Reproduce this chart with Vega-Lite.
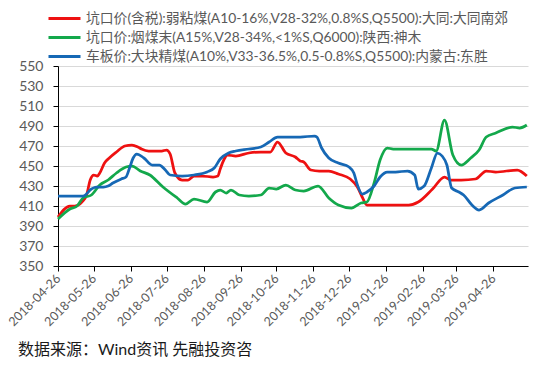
{
  "$schema": "https://vega.github.io/schema/vega-lite/v6.json",
  "width": 470,
  "height": 200,
  "autosize": {"type": "none"},
  "padding": {"left": 58, "top": 66, "right": 22, "bottom": 101},
  "background": "white",
  "title": {
    "text": "数据来源：Wind资讯 先融投资咨",
    "orient": "bottom",
    "anchor": "start",
    "frame": "group",
    "dx": -40,
    "offset": 14,
    "fontSize": 16,
    "fontWeight": "normal",
    "color": "#1a1a1a"
  },
  "data": {
    "format": {"parse": {"d": "date:'%Y-%m-%d'"}},
    "values": [
      {"d": "2018-04-26", "s": "A", "v": 399},
      {"d": "2018-05-06", "s": "A", "v": 410},
      {"d": "2018-05-10", "s": "A", "v": 410},
      {"d": "2018-05-16", "s": "A", "v": 414},
      {"d": "2018-05-20", "s": "A", "v": 421},
      {"d": "2018-05-23", "s": "A", "v": 436},
      {"d": "2018-05-26", "s": "A", "v": 441},
      {"d": "2018-05-29", "s": "A", "v": 440},
      {"d": "2018-05-31", "s": "A", "v": 443},
      {"d": "2018-06-04", "s": "A", "v": 453},
      {"d": "2018-06-08", "s": "A", "v": 458},
      {"d": "2018-06-14", "s": "A", "v": 464},
      {"d": "2018-06-21", "s": "A", "v": 470},
      {"d": "2018-06-27", "s": "A", "v": 471},
      {"d": "2018-07-02", "s": "A", "v": 469},
      {"d": "2018-07-05", "s": "A", "v": 467},
      {"d": "2018-07-11", "s": "A", "v": 465},
      {"d": "2018-07-22", "s": "A", "v": 465},
      {"d": "2018-07-26", "s": "A", "v": 466},
      {"d": "2018-07-29", "s": "A", "v": 462},
      {"d": "2018-08-02", "s": "A", "v": 443},
      {"d": "2018-08-08", "s": "A", "v": 436},
      {"d": "2018-08-13", "s": "A", "v": 436},
      {"d": "2018-08-18", "s": "A", "v": 440},
      {"d": "2018-08-25", "s": "A", "v": 440},
      {"d": "2018-09-03", "s": "A", "v": 439},
      {"d": "2018-09-07", "s": "A", "v": 440},
      {"d": "2018-09-09", "s": "A", "v": 447},
      {"d": "2018-09-12", "s": "A", "v": 456},
      {"d": "2018-09-15", "s": "A", "v": 461},
      {"d": "2018-09-22", "s": "A", "v": 460},
      {"d": "2018-10-03", "s": "A", "v": 463},
      {"d": "2018-10-13", "s": "A", "v": 464},
      {"d": "2018-10-21", "s": "A", "v": 464},
      {"d": "2018-10-27", "s": "A", "v": 474},
      {"d": "2018-11-03", "s": "A", "v": 463},
      {"d": "2018-11-11", "s": "A", "v": 459},
      {"d": "2018-11-15", "s": "A", "v": 455},
      {"d": "2018-11-18", "s": "A", "v": 454},
      {"d": "2018-11-24", "s": "A", "v": 446},
      {"d": "2018-12-01", "s": "A", "v": 445},
      {"d": "2018-12-09", "s": "A", "v": 445},
      {"d": "2018-12-17", "s": "A", "v": 442},
      {"d": "2018-12-27", "s": "A", "v": 437},
      {"d": "2019-01-02", "s": "A", "v": 429},
      {"d": "2019-01-06", "s": "A", "v": 419},
      {"d": "2019-01-10", "s": "A", "v": 411},
      {"d": "2019-01-21", "s": "A", "v": 411},
      {"d": "2019-02-14", "s": "A", "v": 411},
      {"d": "2019-02-22", "s": "A", "v": 414},
      {"d": "2019-03-06", "s": "A", "v": 427},
      {"d": "2019-03-16", "s": "A", "v": 439},
      {"d": "2019-03-21", "s": "A", "v": 436},
      {"d": "2019-03-30", "s": "A", "v": 436},
      {"d": "2019-04-11", "s": "A", "v": 437},
      {"d": "2019-04-20", "s": "A", "v": 445},
      {"d": "2019-04-28", "s": "A", "v": 444},
      {"d": "2019-05-16", "s": "A", "v": 446},
      {"d": "2019-05-24", "s": "A", "v": 440},

      {"d": "2018-04-26", "s": "B", "v": 397},
      {"d": "2018-05-06", "s": "B", "v": 407},
      {"d": "2018-05-12", "s": "B", "v": 410},
      {"d": "2018-05-17", "s": "B", "v": 418},
      {"d": "2018-05-24", "s": "B", "v": 421},
      {"d": "2018-05-31", "s": "B", "v": 431},
      {"d": "2018-06-07", "s": "B", "v": 436},
      {"d": "2018-06-14", "s": "B", "v": 443},
      {"d": "2018-06-22", "s": "B", "v": 449},
      {"d": "2018-06-27", "s": "B", "v": 450},
      {"d": "2018-07-04", "s": "B", "v": 445},
      {"d": "2018-07-12", "s": "B", "v": 441},
      {"d": "2018-07-23", "s": "B", "v": 429},
      {"d": "2018-08-04", "s": "B", "v": 418},
      {"d": "2018-08-11", "s": "B", "v": 412},
      {"d": "2018-08-18", "s": "B", "v": 417},
      {"d": "2018-08-29", "s": "B", "v": 414},
      {"d": "2018-09-05", "s": "B", "v": 424},
      {"d": "2018-09-09", "s": "B", "v": 426},
      {"d": "2018-09-14", "s": "B", "v": 423},
      {"d": "2018-09-18", "s": "B", "v": 426},
      {"d": "2018-09-25", "s": "B", "v": 421},
      {"d": "2018-10-03", "s": "B", "v": 420},
      {"d": "2018-10-13", "s": "B", "v": 421},
      {"d": "2018-10-20", "s": "B", "v": 428},
      {"d": "2018-10-26", "s": "B", "v": 427},
      {"d": "2018-11-03", "s": "B", "v": 431},
      {"d": "2018-11-11", "s": "B", "v": 426},
      {"d": "2018-11-18", "s": "B", "v": 425},
      {"d": "2018-11-30", "s": "B", "v": 430},
      {"d": "2018-12-09", "s": "B", "v": 418},
      {"d": "2018-12-17", "s": "B", "v": 411},
      {"d": "2018-12-28", "s": "B", "v": 408},
      {"d": "2019-01-05", "s": "B", "v": 413},
      {"d": "2019-01-10", "s": "B", "v": 414},
      {"d": "2019-01-16", "s": "B", "v": 433},
      {"d": "2019-01-21", "s": "B", "v": 456},
      {"d": "2019-01-27", "s": "B", "v": 468},
      {"d": "2019-02-01", "s": "B", "v": 467},
      {"d": "2019-03-05", "s": "B", "v": 467},
      {"d": "2019-03-09", "s": "B", "v": 465},
      {"d": "2019-03-16", "s": "B", "v": 496},
      {"d": "2019-03-23", "s": "B", "v": 461},
      {"d": "2019-03-30", "s": "B", "v": 451},
      {"d": "2019-04-07", "s": "B", "v": 458},
      {"d": "2019-04-14", "s": "B", "v": 466},
      {"d": "2019-04-20", "s": "B", "v": 479},
      {"d": "2019-04-28", "s": "B", "v": 483},
      {"d": "2019-05-12", "s": "B", "v": 489},
      {"d": "2019-05-18", "s": "B", "v": 488},
      {"d": "2019-05-24", "s": "B", "v": 491},

      {"d": "2018-04-26", "s": "C", "v": 420},
      {"d": "2018-05-17", "s": "C", "v": 420},
      {"d": "2018-05-24", "s": "C", "v": 427},
      {"d": "2018-05-28", "s": "C", "v": 429},
      {"d": "2018-06-03", "s": "C", "v": 429},
      {"d": "2018-06-07", "s": "C", "v": 430},
      {"d": "2018-06-11", "s": "C", "v": 433},
      {"d": "2018-06-18", "s": "C", "v": 437},
      {"d": "2018-06-22", "s": "C", "v": 439},
      {"d": "2018-06-25", "s": "C", "v": 448},
      {"d": "2018-06-28", "s": "C", "v": 458},
      {"d": "2018-07-01", "s": "C", "v": 462},
      {"d": "2018-07-07", "s": "C", "v": 458},
      {"d": "2018-07-14", "s": "C", "v": 451},
      {"d": "2018-07-20", "s": "C", "v": 451},
      {"d": "2018-07-25", "s": "C", "v": 446},
      {"d": "2018-07-29", "s": "C", "v": 441},
      {"d": "2018-08-08", "s": "C", "v": 440},
      {"d": "2018-08-18", "s": "C", "v": 441},
      {"d": "2018-08-29", "s": "C", "v": 444},
      {"d": "2018-09-04", "s": "C", "v": 448},
      {"d": "2018-09-09", "s": "C", "v": 457},
      {"d": "2018-09-16", "s": "C", "v": 463},
      {"d": "2018-09-22", "s": "C", "v": 465},
      {"d": "2018-10-03", "s": "C", "v": 467},
      {"d": "2018-10-13", "s": "C", "v": 469},
      {"d": "2018-10-20", "s": "C", "v": 474},
      {"d": "2018-10-27", "s": "C", "v": 479},
      {"d": "2018-11-15", "s": "C", "v": 479},
      {"d": "2018-11-27", "s": "C", "v": 480},
      {"d": "2018-11-29", "s": "C", "v": 479},
      {"d": "2018-12-03", "s": "C", "v": 468},
      {"d": "2018-12-09", "s": "C", "v": 458},
      {"d": "2018-12-17", "s": "C", "v": 453},
      {"d": "2018-12-26", "s": "C", "v": 449},
      {"d": "2018-12-30", "s": "C", "v": 443},
      {"d": "2019-01-02", "s": "C", "v": 431},
      {"d": "2019-01-06", "s": "C", "v": 422},
      {"d": "2019-01-10", "s": "C", "v": 424},
      {"d": "2019-01-16", "s": "C", "v": 430},
      {"d": "2019-01-21", "s": "C", "v": 439},
      {"d": "2019-01-27", "s": "C", "v": 444},
      {"d": "2019-02-03", "s": "C", "v": 444},
      {"d": "2019-02-13", "s": "C", "v": 445},
      {"d": "2019-02-19", "s": "C", "v": 441},
      {"d": "2019-02-22", "s": "C", "v": 427},
      {"d": "2019-02-27", "s": "C", "v": 430},
      {"d": "2019-03-05", "s": "C", "v": 448},
      {"d": "2019-03-10", "s": "C", "v": 463},
      {"d": "2019-03-14", "s": "C", "v": 460},
      {"d": "2019-03-18", "s": "C", "v": 451},
      {"d": "2019-03-22", "s": "C", "v": 428},
      {"d": "2019-03-28", "s": "C", "v": 424},
      {"d": "2019-04-01", "s": "C", "v": 421},
      {"d": "2019-04-08", "s": "C", "v": 411},
      {"d": "2019-04-14", "s": "C", "v": 406},
      {"d": "2019-04-22", "s": "C", "v": 413},
      {"d": "2019-05-04", "s": "C", "v": 421},
      {"d": "2019-05-14", "s": "C", "v": 428},
      {"d": "2019-05-24", "s": "C", "v": 429}
    ]
  },
  "mark": {"type": "line", "interpolate": "monotone", "strokeWidth": 2.75},
  "encoding": {
    "x": {
      "field": "d",
      "type": "temporal",
      "scale": {
        "domain": [
          {"year": 2018, "month": 4, "date": 26},
          {"year": 2019, "month": 5, "date": 25}
        ]
      },
      "axis": {
        "title": null,
        "grid": false,
        "values": [
          {"year": 2018, "month": 4, "date": 26},
          {"year": 2018, "month": 5, "date": 26},
          {"year": 2018, "month": 6, "date": 26},
          {"year": 2018, "month": 7, "date": 26},
          {"year": 2018, "month": 8, "date": 26},
          {"year": 2018, "month": 9, "date": 26},
          {"year": 2018, "month": 10, "date": 26},
          {"year": 2018, "month": 11, "date": 26},
          {"year": 2018, "month": 12, "date": 26},
          {"year": 2019, "month": 1, "date": 26},
          {"year": 2019, "month": 2, "date": 26},
          {"year": 2019, "month": 3, "date": 26},
          {"year": 2019, "month": 4, "date": 26}
        ],
        "format": "%Y-%m-%d",
        "labelAngle": -45,
        "labelAlign": "right",
        "labelBaseline": "middle",
        "labelPadding": 5,
        "labelOverlap": false,
        "labelFontSize": 12.5,
        "labelColor": "#595959",
        "tickSize": 5,
        "tickColor": "#000000",
        "domainColor": "#000000",
        "labelFlush": false
      }
    },
    "y": {
      "field": "v",
      "type": "quantitative",
      "scale": {"domain": [350, 550], "nice": false, "zero": false},
      "axis": {
        "title": null,
        "values": [350, 370, 390, 410, 430, 450, 470, 490, 510, 530, 550],
        "labelFontSize": 14,
        "labelColor": "#595959",
        "labelPadding": 10,
        "tickSize": 5,
        "tickColor": "#000000",
        "domainColor": "#000000",
        "gridColor": "#d9d9d9",
        "gridWidth": 1
      }
    },
    "color": {
      "field": "s",
      "type": "nominal",
      "scale": {"domain": ["A", "B", "C"], "range": ["#EE1111", "#13A84B", "#1668B5"]},
      "legend": {
        "title": null,
        "orient": "none",
        "legendX": -11,
        "legendY": -57,
        "direction": "vertical",
        "symbolType": "stroke",
        "symbolSize": 1024,
        "symbolStrokeWidth": 3,
        "clipHeight": 19,
        "labelFontSize": 13.8,
        "labelColor": "#595959",
        "labelLimit": 600,
        "labelOffset": 4,
        "rowPadding": 0,
        "padding": 0,
        "labelExpr": "datum.value == 'A' ? '坑口价(含税):弱粘煤(A10-16%,V28-32%,0.8%S,Q5500):大同:大同南郊' : datum.value == 'B' ? '坑口价:烟煤末(A15%,V28-34%,<1%S,Q6000):陕西:神木' : '车板价:大块精煤(A10%,V33-36.5%,0.5-0.8%S,Q5500):内蒙古:东胜'"
      }
    }
  },
  "config": {
    "font": "Lato, 'Noto Sans CJK SC', sans-serif",
    "view": {"stroke": null}
  }
}
